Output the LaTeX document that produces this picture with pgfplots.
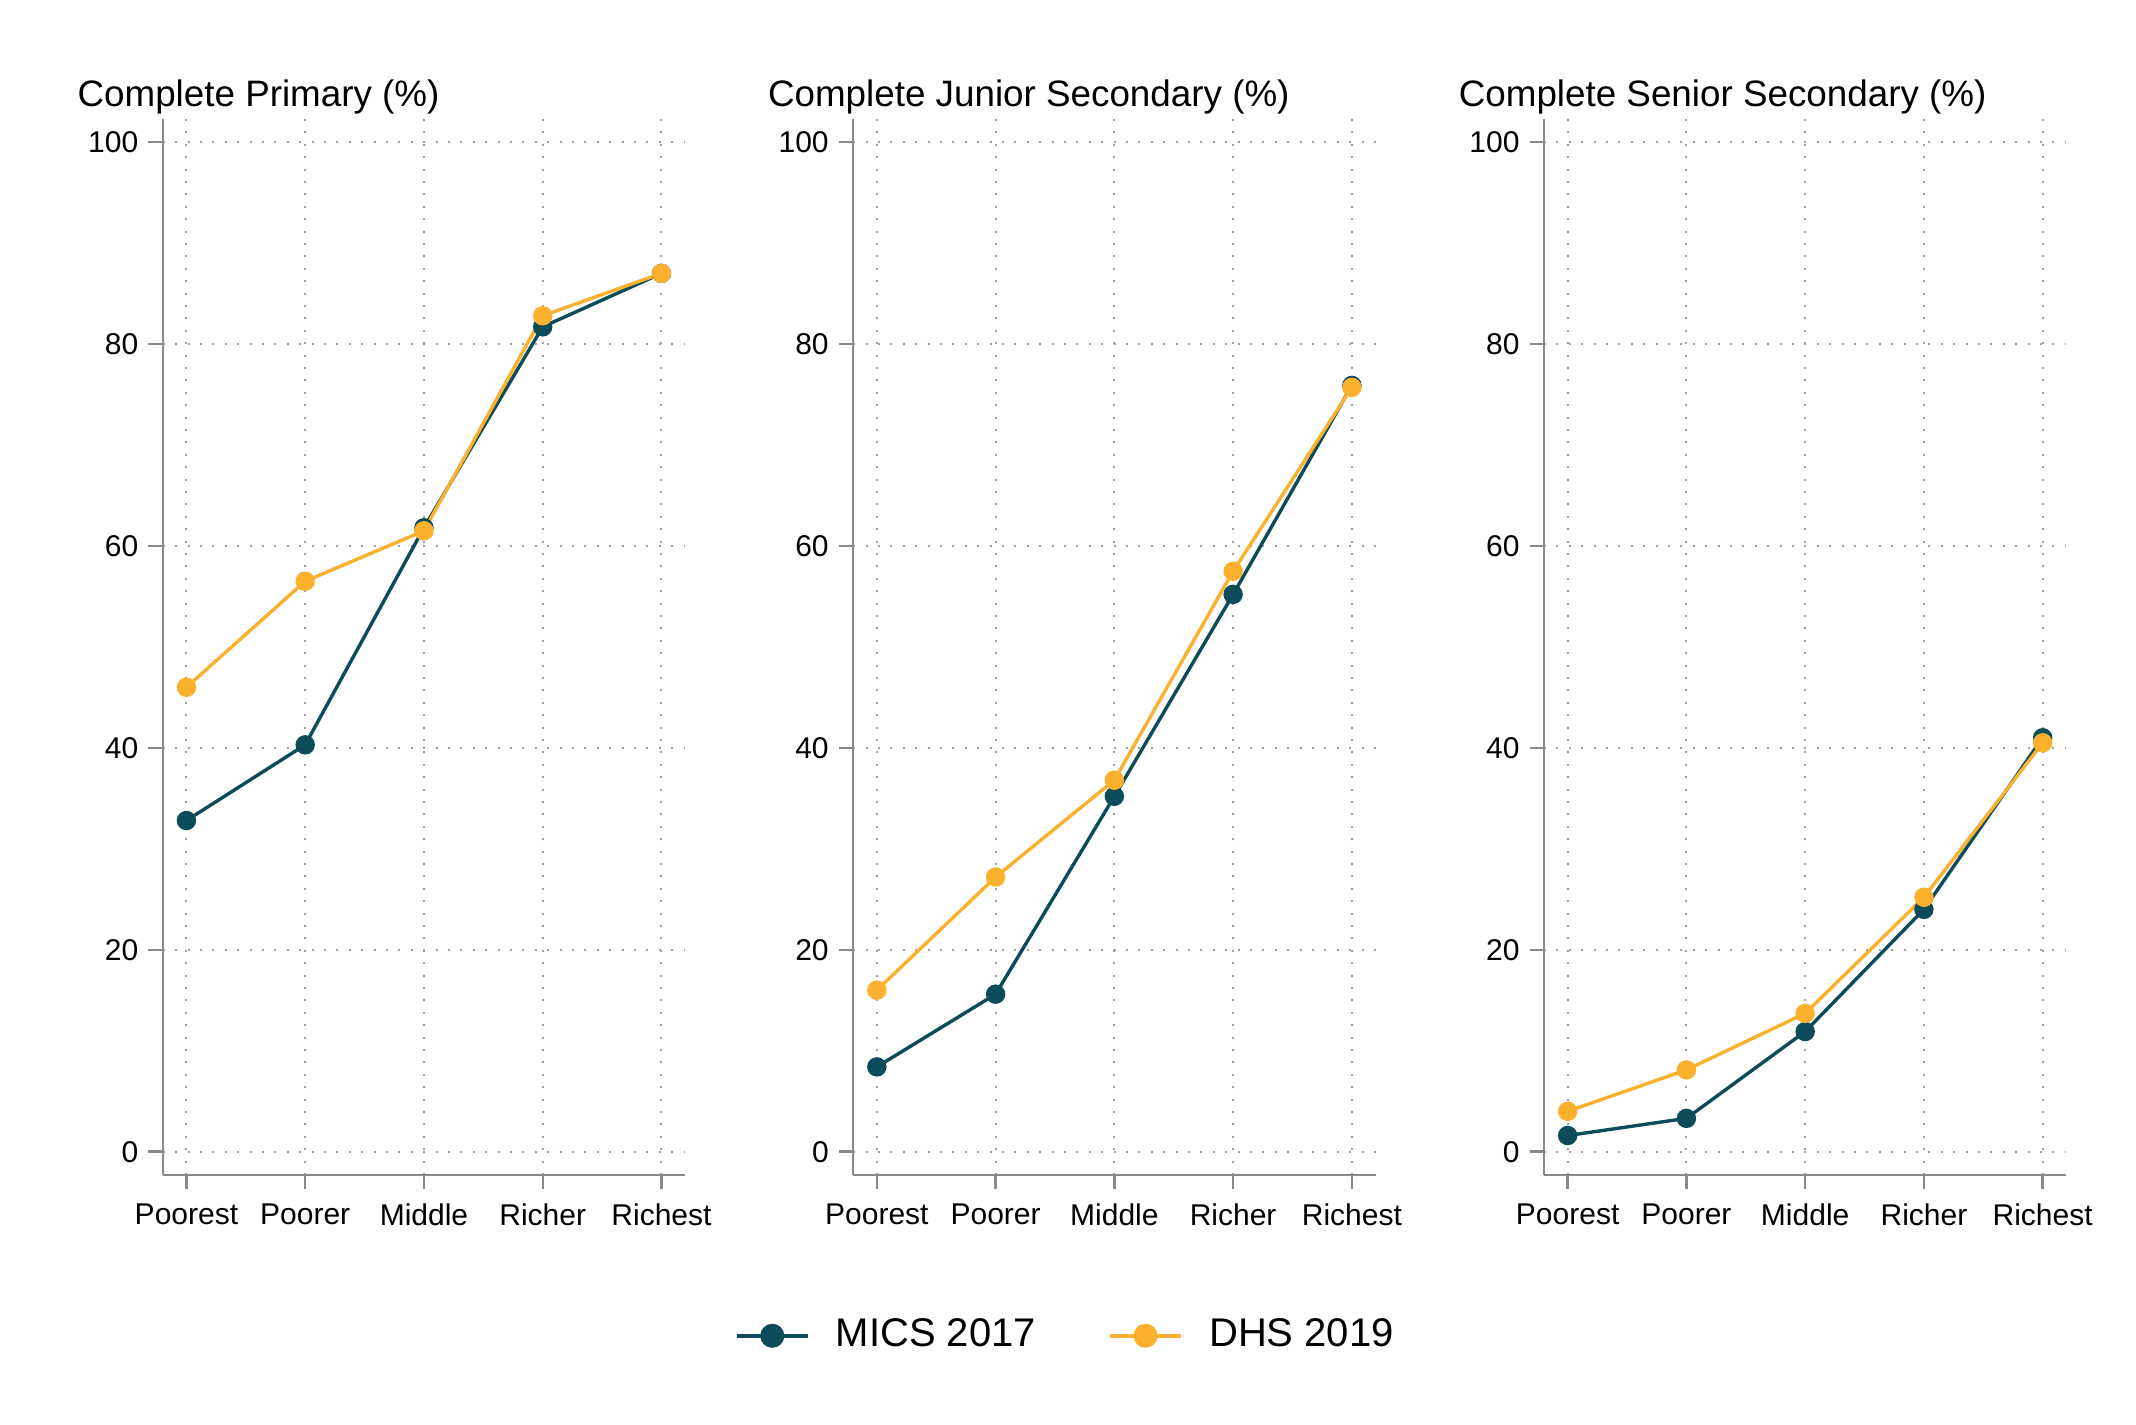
\documentclass[border=0pt]{standalone}
\usepackage{pgfplots}
\usepackage{pgfplotstable}
\pgfplotsset{compat=1.18}
\usepackage{fontspec}
\setmainfont{Liberation Sans}

\definecolor{mics}{HTML}{0C4C5A}
\definecolor{dhs}{HTML}{FBB12D}
\definecolor{axgray}{HTML}{8A8A8A}

% quintile, MICS 2017, DHS 2019
\pgfplotstableread{
x mics dhs
0 32.8 46.0
1 40.3 56.5
2 61.8 61.5
3 81.7 82.8
4 87.0 87.0
}\primary
\pgfplotstableread{
x mics dhs
0 8.4 16.0
1 15.6 27.2
2 35.2 36.8
3 55.2 57.5
4 75.9 75.7
}\junior
\pgfplotstableread{
x mics dhs
0 1.6 4.0
1 3.3 8.1
2 11.9 13.7
3 24.0 25.2
4 41.0 40.5
}\senior

\pgfplotsset{
  panel/.style={
    scale only axis,
    width=130.6pt, height=263.9pt,
    anchor=south west,
    xmin=-0.199, xmax=4.2,
    ymin=-2.31, ymax=102.25,
    axis x line*=bottom, axis y line*=left,
    axis line style={axgray, line width=0.6pt, -},
    xtick={0,1,2,3,4},
    xticklabels={Poorest,Poorer,Middle,Richer,Richest},
    ytick={0,20,40,60,80,100},
    tick align=outside,
    major tick length=3.6pt,
    tick style={axgray, line width=0.6pt},
    grid=major,
    major grid style={gray!75, line width=0.5pt, dash pattern=on 0.5pt off 2.6pt},
    ticklabel style={font=\fontsize{7.5}{9}\selectfont},
    yticklabel style={xshift=1pt},
    /pgf/number format/assume math mode=true,
    title style={at={(rel axis cs:0,1)}, anchor=base west,
      xshift=-21.5pt, yshift=-2.9pt, inner sep=0pt,
      font=\fontsize{9.2}{11}\selectfont},
    every axis plot/.append style={line width=0.85pt, mark=*, mark size=2pt},
  },
}

\begin{document}
\begin{tikzpicture}
\useasboundingbox (0,0) rectangle (534pt,356pt);

\begin{axis}[panel, at={(40.7pt,62.25pt)}, title={Complete Primary (\%)}]
  \addplot[mics, mark options={fill=mics}] table[x=x, y=mics] {\primary};
  \addplot[dhs, mark options={fill=dhs}] table[x=x, y=dhs] {\primary};
\end{axis}

\begin{axis}[panel, at={(213.3pt,62.25pt)}, title={Complete Junior Secondary (\%)},
  legend columns=2,
  legend style={at={(axis description cs:-0.2284,-0.1523)}, anchor=west,
    draw=none, fill=none, inner sep=0pt,
    font=\fontsize{10}{12}\selectfont,
    nodes={inner sep=0pt},
    /tikz/every odd column/.append style={column sep=6.55pt},
    /tikz/every even column/.append style={column sep=18pt}},
  legend image code/.code={
    \draw[mark repeat=2, mark phase=2, #1, mark size=2.5pt, line width=1pt]
      plot coordinates {(0pt,0pt) (8.9pt,0pt) (17.75pt,0pt)};
  },
]
  \addplot[mics, mark options={fill=mics}] table[x=x, y=mics] {\junior};
  \addlegendentry{MICS 2017}
  \addplot[dhs, mark options={fill=dhs}] table[x=x, y=dhs] {\junior};
  \addlegendentry{DHS 2019}
\end{axis}

\begin{axis}[panel, at={(386.0pt,62.25pt)}, title={Complete Senior Secondary (\%)}]
  \addplot[mics, mark options={fill=mics}] table[x=x, y=mics] {\senior};
  \addplot[dhs, mark options={fill=dhs}] table[x=x, y=dhs] {\senior};
\end{axis}
\end{tikzpicture}
\end{document}
